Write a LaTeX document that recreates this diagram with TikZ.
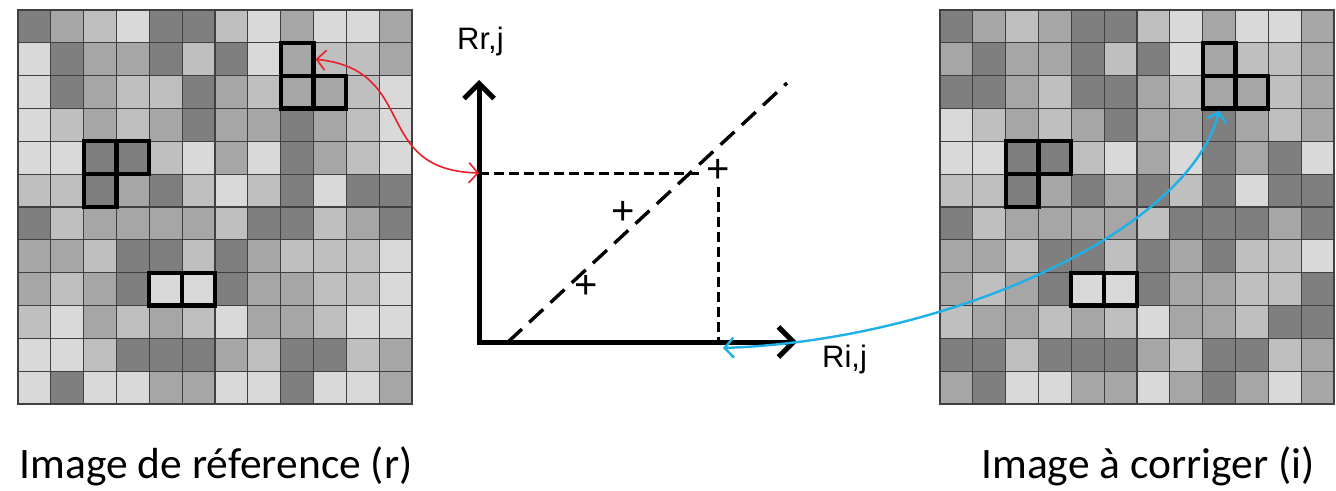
\documentclass[tikz,border=0pt]{standalone}
\usepackage{fontspec}
\setmainfont{Liberation Sans}
\newfontfamily\imCalibri{Carlito}
\usetikzlibrary{arrows.meta}
\definecolor{imShade1}{HTML}{7F7F7F}
\definecolor{imShade2}{HTML}{A6A6A6}
\definecolor{imShade3}{HTML}{BFBFBF}
\definecolor{imShade4}{HTML}{D9D9D9}
\definecolor{imLine}{HTML}{404040}
\definecolor{imRed}{HTML}{E8202A}
\definecolor{imBlue}{HTML}{1FB0E8}
\newcommand\imS{32.83}
\tikzset{
  imCell/.style={draw=imLine, line width=1.1pt},
  imHi/.style={rectangle, draw=black, line width=4.2pt,
               minimum size=32.83pt, inner sep=0pt},
  imAxis/.style={line width=5pt, -{Straight Barb[length=15pt, width=30pt]}},
  imDiag/.style={line width=3.4pt, dash pattern=on 19pt off 10pt},
  imGuide/.style={line width=3pt, dash pattern=on 10pt off 5pt},
  imPlus/.style={font=\fontsize{40}{40}\selectfont, inner sep=0pt},
  imAxisLab/.style={font=\fontsize{31}{31}\selectfont, inner sep=0pt, anchor=base west},
  imCaption/.style={font=\imCalibri\fontsize{43.5}{43.5}\selectfont, inner sep=0pt, anchor=base},
  imRedArrow/.style={draw=imRed, line width=1.6pt,
                     {Straight Barb[length=9pt, width=20pt]}-{Straight Barb[length=9pt, width=20pt]}},
  imBlueArrow/.style={draw=imBlue, line width=2.4pt,
                      {Straight Barb[length=9pt, width=20pt]}-{Straight Barb[length=9pt, width=20pt]}},
}
% #1 name prefix, #2/#3 top left corner, #4 rows of shades
\newcommand\imGrid[4]{%
  \foreach \row [count=\r from 0] in {#4} {
    \foreach \v [count=\c from 0] in \row {
      \filldraw[imCell, fill=imShade\v] (#2+\c*\imS, #3+\r*\imS) rectangle ++(\imS,\imS);
    }
  }
  % the three outlined patterns
  \foreach \r/\c in {1/8, 2/8, 2/9, 4/2, 4/3, 5/2, 8/4, 8/5}
    \node[imHi] (#1-\r-\c) at (#2+\c*\imS+0.5*\imS, #3+\r*\imS+0.5*\imS) {};
}
\begin{document}
\begin{tikzpicture}[x=1pt, y=-1pt]
  \useasboundingbox (0,0) rectangle (1336,490);

  % ─── Reference image (r) ──────────────────────────────────────────────
  \imGrid{ref}{18}{10}{
    {1,2,3,4,1,1,3,4,2,4,4,2},
    {4,1,2,2,1,3,1,4,2,3,3,2},
    {4,1,2,3,3,1,2,3,2,2,3,4},
    {4,3,2,3,2,1,2,2,1,2,3,4},
    {4,4,1,1,3,4,2,4,1,2,3,4},
    {3,3,1,2,1,3,4,3,1,4,1,1},
    {1,3,2,2,2,2,3,1,1,3,2,1},
    {2,2,3,1,1,3,1,2,3,3,3,4},
    {2,3,2,1,4,4,1,2,2,3,3,4},
    {3,4,2,3,2,3,4,2,2,3,4,4},
    {4,4,3,1,1,1,2,3,1,1,3,2},
    {4,1,4,4,2,2,4,4,1,4,4,2}}

  % ─── Image to correct (i) ─────────────────────────────────────────────
  \imGrid{cor}{940}{10}{
    {1,2,3,2,1,1,3,4,2,4,4,2},
    {2,1,2,2,1,3,1,4,2,3,3,2},
    {1,1,2,3,1,1,2,3,2,2,3,2},
    {4,3,2,3,2,1,2,2,1,2,3,2},
    {4,4,1,1,3,4,2,4,1,2,1,4},
    {3,3,1,2,1,2,1,3,1,4,1,1},
    {1,3,2,2,2,2,3,1,1,1,2,1},
    {2,2,3,1,1,3,1,2,1,3,3,4},
    {2,3,2,1,4,4,1,2,2,3,3,1},
    {3,2,2,3,2,3,4,2,2,3,1,1},
    {1,1,3,1,1,1,2,3,1,1,3,2},
    {2,1,4,4,2,2,4,2,1,2,4,2}}

  % ─── Regression plot ──────────────────────────────────────────────────
  \coordinate (origin) at (479,342);
  \coordinate (yTop)   at (479,80);
  \coordinate (xEnd)   at (797,342);
  \coordinate (diagA)  at (508,342);
  \coordinate (diagB)  at (787,83);
  \coordinate (yMark)  at (479,173);
  \coordinate (xMark)  at (723,348);
  \coordinate (hEnd)   at (700,173);

  \draw[imDiag] (diagA) -- (diagB);
  \node[imPlus] (p1) at (718,171) {+};
  \node[imPlus] (p2) at (623,213) {+};
  \node[imPlus] (p3) at (586,287) {+};
  \draw[imGuide] (yMark) -- (hEnd);
  \draw[imGuide] ([yshift=-4pt]p1.south) -- (p1.south |- origin);

  \draw[imAxis] ([yshift=2.5pt]origin) -- (yTop);
  \draw[imAxis] ([xshift=-2.5pt]origin) -- (xEnd);

  \node[imAxisLab] (labY) at (457,49)  {Rr,j};
  \node[imAxisLab] (labX) at (822,367) {Ri,j};

  % ─── Links between pixels and plot ────────────────────────────────────
  \draw[imRedArrow] (ref-1-8.east) .. controls (420,70) and (370,170) .. (yMark);
  \draw[imBlueArrow] (xMark) .. controls (950,340) and (1190,230) .. (cor-2-8.south);

  % ─── Captions ─────────────────────────────────────────────────────────
  \node[imCaption] (capRef) at (216,478)  {Image de réference (r)};
  \node[imCaption] (capCor) at (1148,478) {Image à corriger (i)};
\end{tikzpicture}
\end{document}
